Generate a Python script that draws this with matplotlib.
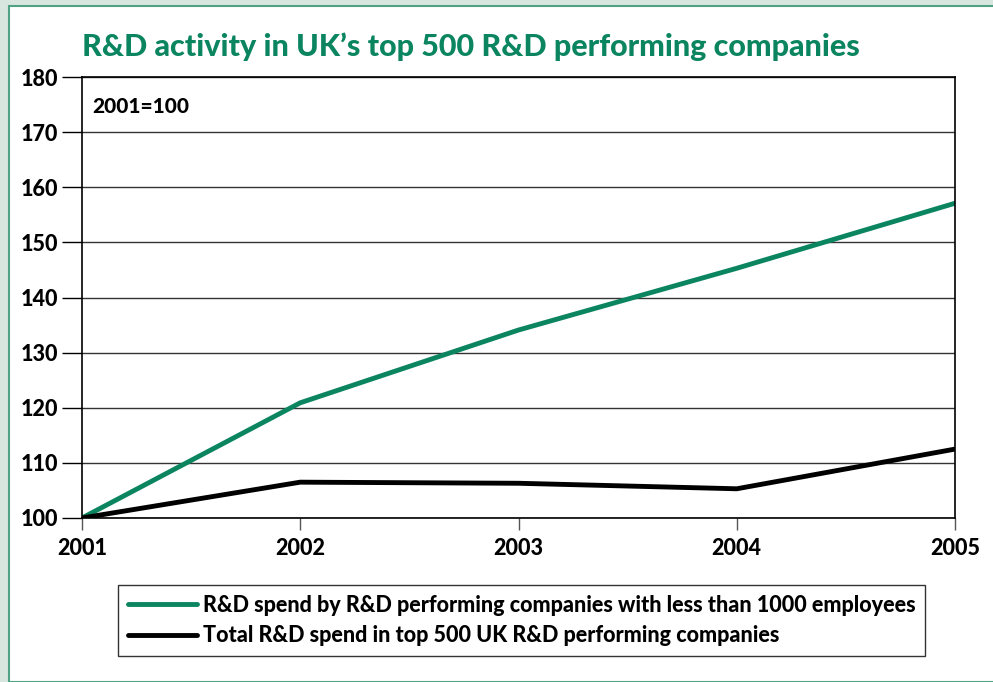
import matplotlib.pyplot as plt
from matplotlib.patches import Rectangle

years = [2001, 2002, 2003, 2004, 2005]
small_firms = [100, 120.9, 134.1, 145.3, 157.1]
total_top500 = [100, 106.5, 106.3, 105.3, 112.5]
yticks = [100, 110, 120, 130, 140, 150, 160, 170, 180]

green = "#0b8560"
plt.rcParams["font.family"] = ["Lato", "DejaVu Sans"]
plt.rcParams["font.weight"] = "black"

fig = plt.figure(figsize=(9.93, 6.82), dpi=100)
fig.patch.set_facecolor("#d7e6de")
# white panel with thin green border
fig.patches.append(Rectangle((9 / 993, 0), 1, 1 - 6 / 682, transform=fig.transFigure,
                             facecolor="white", edgecolor="#4fa384", linewidth=1.5, zorder=-5))

ax = fig.add_axes([82 / 993, 1 - 518 / 682, (955 - 82) / 993, (518 - 77) / 682])
ax.patch.set_alpha(0)
ax.plot(years, small_firms, color=green, linewidth=3.5, solid_capstyle="round",
        label="R&D spend by R&D performing companies with less than 1000 employees")
ax.plot(years, total_top500, color="black", linewidth=3.5, solid_capstyle="round",
        label="Total R&D spend in top 500 UK R&D performing companies")

ax.set_xlim(2001, 2005)
ax.set_ylim(100, 180)
ax.set_yticks(yticks)
ax.set_yticklabels([str(v) for v in yticks], fontsize=15.5, fontweight="black")
ax.set_xticks(years)
ax.set_xticklabels([str(y) for y in years], fontsize=15.5, fontweight="black")
ax.tick_params(axis="y", length=14.5, width=1, pad=3)
ax.tick_params(axis="x", length=8.5, width=1, color="#555555", pad=6)
ax.grid(axis="y", color="#333333", linewidth=1)
ax.set_axisbelow(True)
for s in ax.spines.values():
    s.set_linewidth(1.2)

ax.text(0.012, 0.955, "2001=100", transform=ax.transAxes, fontsize=15,
        fontweight="black", va="top")
fig.text(82 / 993, 1 - 47 / 682, "R&D activity in UK\u2019s top 500 R&D performing companies",
         color=green, fontsize=22, fontweight="black", va="center")

leg = fig.legend(loc="upper left", bbox_to_anchor=(118 / 993, 1 - 585 / 682), fontsize=15.5,
                 frameon=True, fancybox=False, edgecolor="black", handlelength=3.2,
                 handletextpad=0.3, borderpad=0.45, labelspacing=0.45, borderaxespad=0)
leg.get_frame().set_linewidth(1)
for t in leg.get_texts():
    t.set_fontweight("black")

fig.savefig("out.png", dpi=100, facecolor=fig.get_facecolor())
